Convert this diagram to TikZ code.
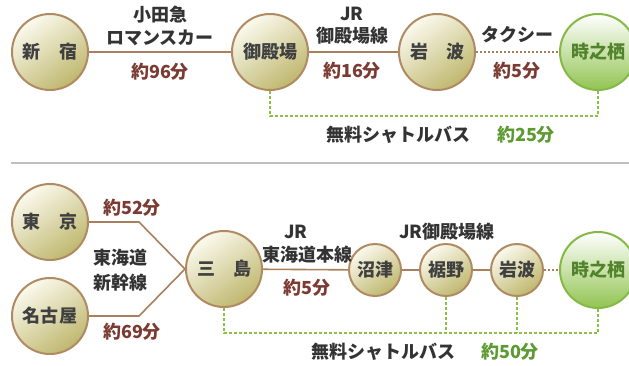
\documentclass[tikz,border=0pt]{standalone}
\usepackage{fontspec}
\setmainfont{Noto Sans CJK JP}
\usetikzlibrary{positioning}

\definecolor{ringbrown}{HTML}{B08A62}
\definecolor{railbrown}{HTML}{A8805C}
\definecolor{timered}{HTML}{7C3B32}
\definecolor{busgreen}{HTML}{8CC042}
\definecolor{textgreen}{HTML}{5E9A32}
\definecolor{ringgreen}{HTML}{86B846}
\definecolor{creamtop}{HTML}{FBFAEE}
\definecolor{olivebottom}{HTML}{BFB76E}
\definecolor{greenbottom}{HTML}{92C452}

\tikzset{
  station/.style={circle, draw=ringbrown, line width=2pt, minimum size=76pt,
    inner sep=0pt, top color=creamtop, bottom color=olivebottom,
    shading angle=35, text=black!75, font=\fontsize{18}{20}\selectfont\bfseries},
  smallstation/.style={station, minimum size=52pt},
  goal/.style={station, draw=ringgreen, top color=white, bottom color=greenbottom,
    text=textgreen!85!black},
  rail/.style={draw=railbrown, line width=1.6pt},
  taxi/.style={draw=railbrown, line width=1.8pt, dash pattern=on 1.8pt off 2.2pt},
  bus/.style={draw=busgreen, line width=2.6pt, dash pattern=on 2.6pt off 2.4pt},
  label/.style={font=\fontsize{18}{20}\selectfont\bfseries, text=black!80, align=center, inner sep=0pt},
  time/.style={font=\fontsize{18}{20}\selectfont\bfseries, text=timered, inner sep=0pt},
  bustime/.style={time, text=textgreen},
}

\begin{document}
\begin{tikzpicture}[x=1pt, y=-1pt]
  \useasboundingbox (0,0) rectangle (629,365);

  % Gotemba route (top)
  \node[station] (shinjuku) at (50,52) {新　宿};
  \node[station] (gotemba) at (270,52) {御殿場};
  \node[station] (iwanamiA) at (437,52) {岩　波};
  \node[goal] (tokiA) at (598,52) {時之栖};

  \draw[rail] (shinjuku) -- (gotemba);
  \draw[rail] (gotemba) -- (iwanamiA);
  \draw[taxi] (iwanamiA) -- (tokiA);

  \node[label] (odakyu) at (160,15) {小田急};
  \node[label] (romance) at (160,38) {ロマンスカー};
  \node[time] (t96) at (160,72) {約96分};
  \node[label] (jrA) at (352,14) {JR};
  \node[label] (gotembaline) at (352,36) {御殿場線};
  \node[time] (t16) at (352,71) {約16分};
  \node[label] (taxiname) at (517,35) {タクシー};
  \node[time] (t5a) at (517,71) {約5分};

  % shuttle bus (top)
  \draw[bus] (gotemba.south) -- ++(0,25) -| (tokiA.south);
  \node[label] (busA) at (398,135) {無料シャトルバス};
  \node[bustime] (t25) at (526,135) {約25分};

  % separator
  \draw[black!25, line width=2pt] (11,163) -- (629,163);

  % Mishima route (bottom)
  \node[station] (tokyo) at (50,222) {東　京};
  \node[station] (nagoya) at (50,316) {名古屋};
  \node[station] (mishima) at (224,269) {三　島};
  \node[smallstation] (numazu) at (375,270) {沼津};
  \node[smallstation] (susono) at (446,270) {裾野};
  \node[smallstation] (iwanamiB) at (517,270) {岩波};
  \node[goal] (tokiB) at (598,270) {時之栖};

  \draw[rail] (tokyo.east) -- ++(50,0) -- (mishima.west);
  \draw[rail] (nagoya.east) -- ++(50,0) -- (mishima.west);
  \draw[rail] (mishima) -- (numazu);
  \draw[rail] (numazu) -- (susono);
  \draw[rail] (susono) -- (iwanamiB);
  \draw[taxi] (iwanamiB) -- (tokiB);

  \node[time] (t52) at (132,208) {約52分};
  \node[label] (tokaido) at (120,258) {東海道};
  \node[label] (shinkansen) at (120,283) {新幹線};
  \node[time] (t69) at (132,332) {約69分};
  \node[label] (jrB) at (296,232) {JR};
  \node[label] (honsen) at (307,255) {東海道本線};
  \node[time] (t5b) at (307,288) {約5分};
  \node[label] (gotembalineB) at (447,232) {JR御殿場線};

  % shuttle bus (bottom)
  \draw[bus] (mishima.south) -- ++(0,25) coordinate (busline) -| (tokiB.south);
  \draw[bus] (susono.south) -- (susono.south |- busline);
  \draw[bus] (iwanamiB.south) -- (iwanamiB.south |- busline);
  \node[label] (busB) at (383,352) {無料シャトルバス};
  \node[bustime] (t50) at (510,352) {約50分};
\end{tikzpicture}
\end{document}
